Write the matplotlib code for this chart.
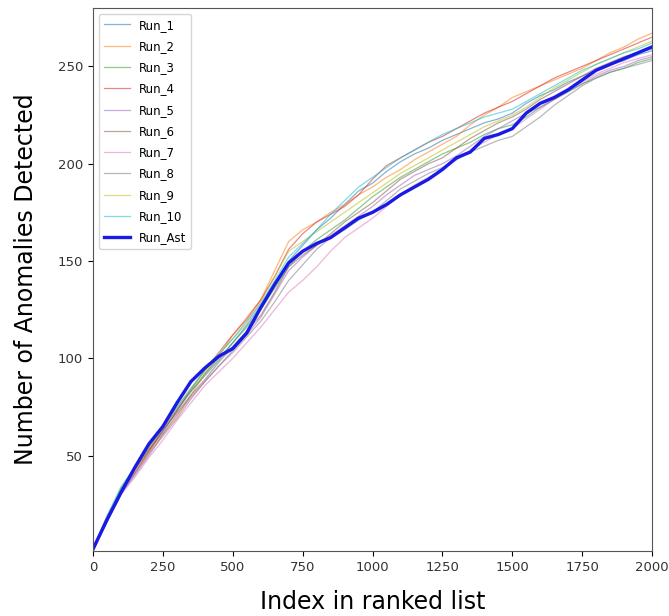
import numpy as np
import matplotlib
matplotlib.use('Agg')
import matplotlib.pyplot as plt

# index positions in ranked list (every 50)
idx = np.arange(0, 2001, 50)

run_1 = [2, 18, 33, 43, 53, 62, 73, 83, 91, 99, 108, 117, 127, 138, 150, 158, 166, 172, 179, 186, 190,
         196, 201, 205, 208, 212, 215, 218, 221, 223, 226, 231, 235, 238, 242, 245, 248, 251, 253, 256, 258]
run_2 = [2, 19, 32, 42, 52, 61, 70, 81, 92, 101, 112, 121, 130, 145, 160, 166, 170, 175, 179, 184, 188,
         193, 197, 202, 206, 210, 214, 220, 225, 229, 234, 237, 240, 243, 246, 249, 253, 257, 260, 264, 267]
run_3 = [1, 17, 33, 44, 54, 64, 74, 83, 92, 100, 108, 116, 125, 136, 147, 155, 161, 166, 171, 177, 183,
         188, 193, 197, 201, 205, 208, 211, 215, 218, 220, 224, 229, 233, 237, 241, 244, 247, 249, 252, 254]
run_4 = [2, 18, 31, 41, 52, 63, 73, 84, 94, 103, 112, 120, 130, 142, 156, 164, 170, 174, 178, 184, 192,
         199, 203, 207, 211, 214, 218, 222, 226, 229, 232, 236, 240, 244, 247, 250, 253, 256, 259, 262, 265]
run_5 = [1, 16, 30, 40, 50, 61, 71, 80, 88, 96, 104, 112, 121, 133, 145, 152, 158, 163, 168, 173, 178,
         184, 189, 194, 197, 200, 204, 209, 214, 218, 222, 226, 229, 233, 237, 241, 245, 248, 250, 253, 255]
run_6 = [2, 17, 32, 43, 53, 63, 72, 81, 89, 98, 106, 114, 122, 134, 147, 153, 158, 164, 170, 175, 180,
         186, 192, 196, 200, 203, 208, 213, 217, 221, 224, 228, 233, 237, 241, 245, 249, 252, 255, 257, 259]
run_7 = [1, 16, 30, 39, 49, 58, 68, 77, 86, 93, 100, 108, 116, 125, 134, 140, 147, 155, 162, 167, 172,
         178, 184, 189, 193, 197, 202, 207, 211, 215, 218, 223, 228, 233, 238, 242, 246, 249, 252, 254, 256]
run_8 = [2, 17, 31, 41, 51, 60, 69, 79, 88, 96, 103, 111, 119, 129, 140, 148, 156, 162, 166, 171, 175,
         181, 187, 191, 195, 198, 202, 206, 209, 212, 214, 219, 224, 230, 235, 240, 244, 247, 249, 251, 253]
run_9 = [2, 18, 33, 43, 54, 64, 75, 85, 93, 102, 110, 118, 129, 142, 155, 160, 165, 170, 175, 180, 185,
         190, 195, 199, 203, 207, 211, 215, 219, 222, 225, 229, 234, 239, 243, 247, 251, 254, 257, 260, 263]
run_10 = [2, 19, 34, 44, 55, 65, 75, 84, 94, 102, 110, 119, 128, 140, 152, 159, 166, 174, 181, 188, 193,
          198, 203, 207, 211, 215, 218, 221, 224, 226, 228, 232, 236, 240, 244, 248, 251, 254, 257, 259, 262]
run_ast = [2, 17, 31, 44, 56, 65, 77, 88, 95, 101, 105, 113, 126, 138, 149, 155, 159, 162, 167, 172, 175,
           179, 184, 188, 192, 197, 203, 206, 213, 215, 218, 226, 231, 234, 238, 243, 248, 251, 254, 257, 260]

runs = [run_1, run_2, run_3, run_4, run_5, run_6, run_7, run_8, run_9, run_10]
names = ['Run_%d' % (i + 1) for i in range(10)]

fig = plt.figure(figsize=(6.69, 6.16), dpi=100)
ax = fig.add_axes([93 / 669, 1 - 551 / 616, 559 / 669, 543 / 616])

for r, n in zip(runs, names):
    ax.plot(idx, r, lw=0.9, alpha=0.55, label=n)
ax.plot(idx, run_ast, color='#1a1ae6', lw=2.4, label='Run_Ast')

ax.set_xlim(0, 2000)
ax.set_ylim(1, 280)
ax.set_xticks(np.arange(0, 2001, 250))
ax.set_yticks([50, 100, 150, 200, 250])
ax.tick_params(labelsize=9.5, labelcolor='#333333')
for s in ax.spines.values():
    s.set_color('#555555')

ax.set_xlabel('Index in ranked list', fontsize=17, labelpad=12)
ax.set_ylabel('Number of Anomalies Detected', fontsize=17, labelpad=14)
ax.legend(loc='upper left', fontsize=8.5, handlelength=2.2, labelspacing=0.7)

fig.savefig('out.png', dpi=100)
